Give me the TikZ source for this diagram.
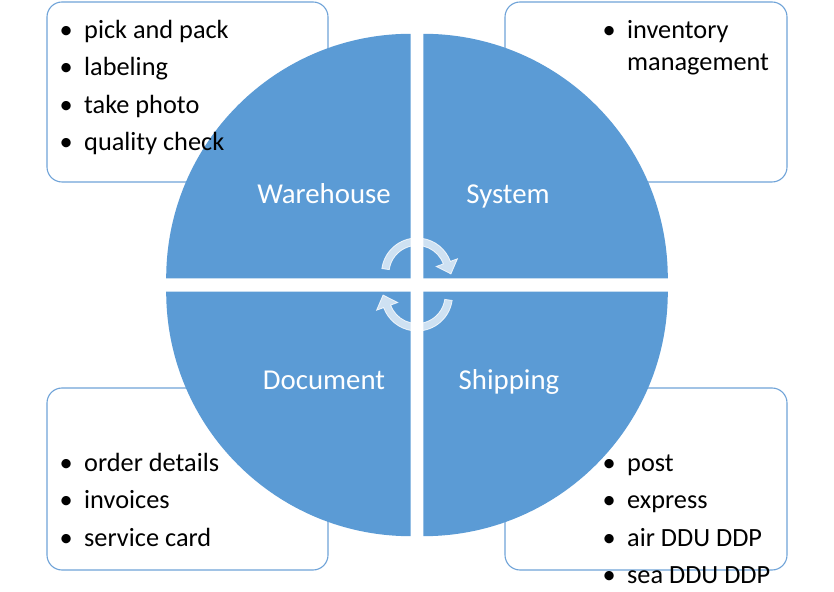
\documentclass[tikz,border=0pt]{standalone}
\usepackage{fontspec}
\setmainfont{Carlito}
\usetikzlibrary{calc}
\definecolor{pie}{HTML}{5B9BD5}
\definecolor{boxline}{HTML}{6FA3D8}
\newcommand\bul{\llap{•\hspace{11.5pt}}}
\begin{document}
\begin{tikzpicture}[x=1pt,y=1pt,
  infobox/.style={draw=boxline, line width=1.1pt, rounded corners=15pt, fill=white},
  quarter/.style={fill=pie},
  item/.style={anchor=base west, inner sep=0pt, font=\fontsize{26.3}{31}\selectfont, text=black},
  seglabel/.style={anchor=base, inner sep=0pt, font=\fontsize{28.8}{34}\selectfont, text=white},
  cyc/.style={fill=white, fill opacity=0.7, draw=white, draw opacity=0.8, line width=0.8pt}]
\useasboundingbox (0,0) rectangle (834,591);
% boxes
\draw[infobox] (47,589) rectangle (328,409);
\draw[infobox] (505,589) rectangle (787,409);
\draw[infobox] (47,203) rectangle (328,21);
\draw[infobox] (505,203) rectangle (787,21);
% quarters
\coordinate (qtl) at (410.7,312.7);
\coordinate (qtr) at (423.3,312.7);
\coordinate (qbl) at (410.7,299.3);
\coordinate (qbr) at (423.3,299.3);
\fill[quarter] (qtl) -- ++(180:244.5) arc[start angle=180,end angle=90,radius=244.5] -- cycle;
\fill[quarter] (qtr) -- ++(0:244.5) arc[start angle=0,end angle=90,radius=244.5] -- cycle;
\fill[quarter] (qbl) -- ++(180:244.5) arc[start angle=180,end angle=270,radius=244.5] -- cycle;
\fill[quarter] (qbr) -- ++(270:244.5) arc[start angle=270,end angle=360,radius=244.5] -- cycle;
% cycle arrows
\coordinate (ca) at (417,317.5);
\coordinate (cb) at (417,295.5);
\path[cyc] ($(ca)+(172:35.5)$) arc[start angle=172,end angle=20,radius=35.5]
  -- ($(ca)+(20:43)$) -- ($(ca)+(20:31.75)+(-70:12)$) -- ($(ca)+(20:20.5)$)
  -- ($(ca)+(20:28)$) arc[start angle=20,end angle=172,radius=28] -- cycle;
\path[cyc] ($(cb)+(352:35.5)$) arc[start angle=352,end angle=200,radius=35.5]
  -- ($(cb)+(200:43)$) -- ($(cb)+(200:31.75)+(110:12)$) -- ($(cb)+(200:20.5)$)
  -- ($(cb)+(200:28)$) arc[start angle=200,end angle=352,radius=28] -- cycle;
% labels
\node[seglabel] (wh) at (324,387.5) {Warehouse};
\node[seglabel] (sy) at (508,387.5) {System};
\node[seglabel] (dc) at (324,201.5) {Document};
\node[seglabel] (sh) at (509,201.5) {Shipping};
% items
\node[item] (tl1) at (84,552.5) {\bul pick and pack};
\node[item] (tl2) at (84,515.2) {\bul labeling};
\node[item] (tl3) at (84,477.9) {\bul take photo};
\node[item] (tl4) at (84,440.5) {\bul quality check};
\node[item] (tr1) at (627,552.5) {\bul inventory};
\node[item] (tr2) at (627,520) {management};
\node[item] (bl1) at (84,119.5) {\bul order details};
\node[item] (bl2) at (84,82.2) {\bul invoices};
\node[item] (bl3) at (84,44.9) {\bul service card};
\node[item] (br1) at (627,119.5) {\bul post};
\node[item] (br2) at (627,82.2) {\bul express};
\node[item] (br3) at (627,44.9) {\bul air DDU DDP};
\node[item] (br4) at (627,7.5) {\bul sea DDU DDP};
\end{tikzpicture}
\end{document}
